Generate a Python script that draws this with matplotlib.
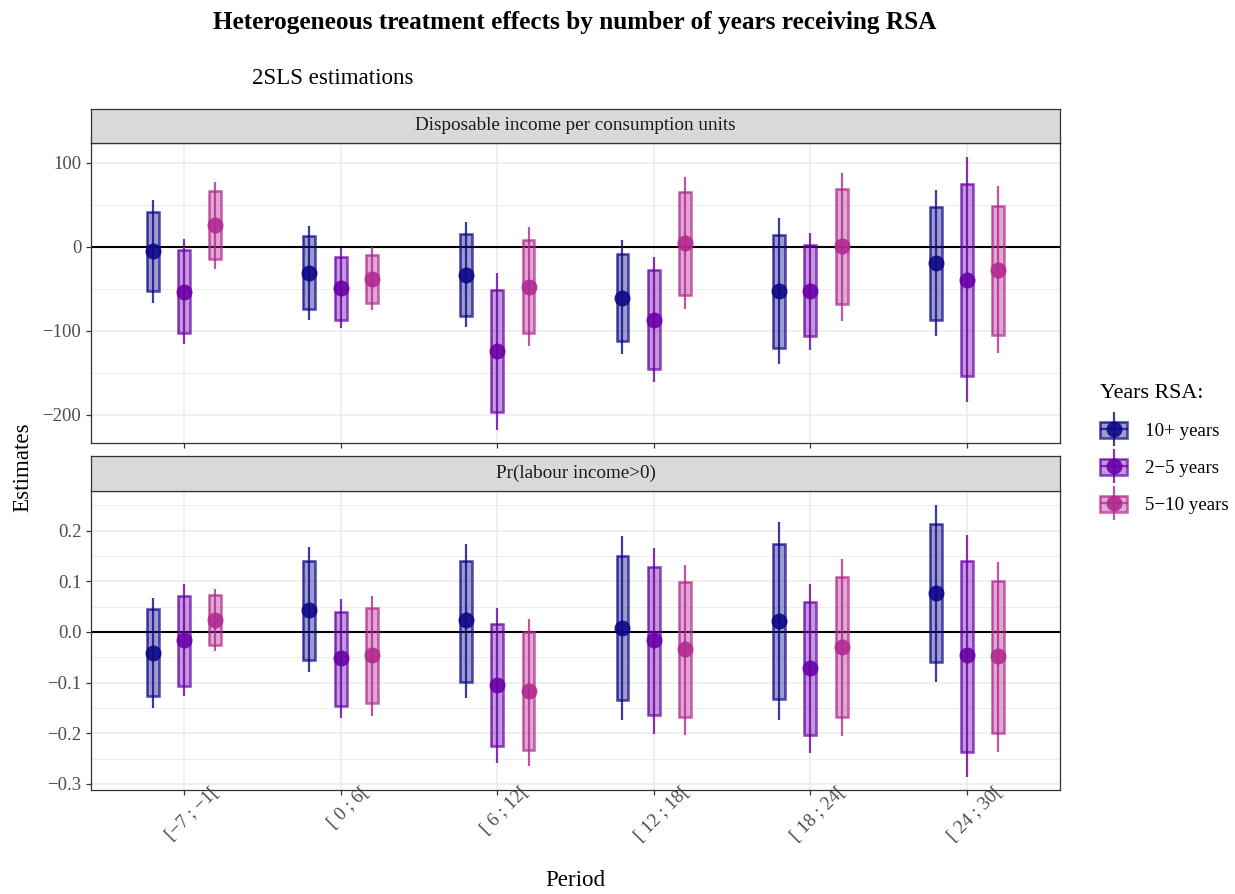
import matplotlib
matplotlib.use("Agg")
import matplotlib.pyplot as plt
import numpy as np
from matplotlib.patches import Rectangle, Patch
from matplotlib.lines import Line2D
from matplotlib.legend_handler import HandlerTuple
from matplotlib.transforms import ScaledTranslation

plt.rcParams['font.family'] = ['Liberation Serif', 'DejaVu Serif']

periods = ["[−7 ; −1[", "[ 0 ; 6[", "[ 6 ; 12[", "[ 12 ; 18[", "[ 18 ; 24[", "[ 24 ; 30["]
groups = ["10+ years", "2−5 years", "5−10 years"]
colors = ["#0D0887", "#6A00A8", "#B12A90"]
panels = ["Disposable income per consumption units", "Pr(labour income>0)"]

# Panel 1: disposable income
inc_est = {
    "10+ years": [-5, -31, -33, -61, -52, -19],
    "2−5 years": [-54, -49, -124, -87, -52, -39],
    "5−10 years": [26, -38, -48, 5, 1, -27],
}
inc_lo90 = {
    "10+ years": [-52, -74, -82, -112, -120, -87],
    "2−5 years": [-102, -87, -196, -145, -106, -154],
    "5−10 years": [-14, -67, -102, -57, -68, -105],
}
inc_hi90 = {
    "10+ years": [42, 13, 15, -8, 14, 48],
    "2−5 years": [-4, -12, -51, -27, 2, 75],
    "5−10 years": [67, -10, 8, 65, 69, 49],
}
inc_lo95 = {
    "10+ years": [-67, -87, -95, -127, -139, -106],
    "2−5 years": [-115, -96, -218, -161, -123, -185],
    "5−10 years": [-26, -75, -118, -74, -88, -126],
}
inc_hi95 = {
    "10+ years": [56, 25, 30, 8, 35, 68],
    "2−5 years": [10, -1, -31, -12, 17, 107],
    "5−10 years": [77, 0, 24, 83, 88, 73],
}

# Panel 2: Pr(labour income>0)
lab_est = {
    "10+ years": [-0.041, 0.043, 0.024, 0.008, 0.022, 0.077],
    "2−5 years": [-0.016, -0.051, -0.105, -0.016, -0.071, -0.045],
    "5−10 years": [0.024, -0.045, -0.116, -0.034, -0.030, -0.047],
}
lab_lo90 = {
    "10+ years": [-0.126, -0.055, -0.099, -0.134, -0.132, -0.059],
    "2−5 years": [-0.107, -0.146, -0.225, -0.164, -0.203, -0.237],
    "5−10 years": [-0.026, -0.140, -0.233, -0.168, -0.168, -0.199],
}
lab_hi90 = {
    "10+ years": [0.045, 0.140, 0.140, 0.150, 0.174, 0.213],
    "2−5 years": [0.071, 0.039, 0.016, 0.128, 0.059, 0.140],
    "5−10 years": [0.073, 0.047, 0.000, 0.099, 0.108, 0.100],
}
lab_lo95 = {
    "10+ years": [-0.150, -0.079, -0.130, -0.174, -0.174, -0.099],
    "2−5 years": [-0.126, -0.170, -0.258, -0.201, -0.239, -0.286],
    "5−10 years": [-0.037, -0.166, -0.264, -0.203, -0.205, -0.237],
}
lab_hi95 = {
    "10+ years": [0.067, 0.168, 0.174, 0.190, 0.217, 0.250],
    "2−5 years": [0.095, 0.065, 0.047, 0.166, 0.095, 0.191],
    "5−10 years": [0.085, 0.071, 0.026, 0.132, 0.144, 0.138],
}

panel_data = [
    (inc_est, inc_lo90, inc_hi90, inc_lo95, inc_hi95),
    (lab_est, lab_lo90, lab_hi90, lab_lo95, lab_hi95),
]

W, H = 1235, 894
fig = plt.figure(figsize=(W / 100, H / 100), dpi=100)

def fx(px):
    return px / W

def fy(py):
    return 1 - py / H

panel_px = [(143, 443, 109), (491, 790, 456)]
left_px, right_px = 91, 1060
ylims = [(-233.5, 123.8), (-0.312, 0.278)]
major_ticks = [[-200, -100, 0, 100], [-0.3, -0.2, -0.1, 0.0, 0.1, 0.2]]
minor_ticks = [[-150, -50, 50], [-0.25, -0.15, -0.05, 0.05, 0.15, 0.25]]
tick_fmt = [lambda v: f"{v:.0f}".replace("-", "−"), lambda v: f"{v:.1f}".replace("-", "−")]

offsets = [-0.2, 0.0, 0.2]
box_w = 0.076
xpos = np.arange(1, len(periods) + 1)
grid_c = "#EBEBEB"
text_c = "#4D4D4D"
TS = 13.5

for pi, (top, bot, strip_top) in enumerate(panel_px):
    ax = fig.add_axes([fx(left_px), fy(bot), fx(right_px - left_px), (bot - top) / H])
    est, lo90, hi90, lo95, hi95 = panel_data[pi]
    ax.set_xlim(0.406, 6.594)
    ax.set_ylim(*ylims[pi])
    ax.set_yticks(major_ticks[pi])
    ax.set_yticks(minor_ticks[pi], minor=True)
    ax.set_yticklabels([tick_fmt[pi](v) for v in major_ticks[pi]])
    ax.set_xticks(xpos)
    ax.grid(True, which="major", color=grid_c, linewidth=1.1, zorder=0)
    ax.grid(True, which="minor", axis="y", color=grid_c, linewidth=0.6, zorder=0)
    ax.set_axisbelow(True)
    for s in ax.spines.values():
        s.set_color("#333333")
        s.set_linewidth(0.9)
    ax.tick_params(axis="both", which="major", length=3.5, color="#333333", labelsize=TS,
                   labelcolor=text_c, width=0.9, pad=3.5)
    ax.tick_params(axis="y", which="minor", length=0)
    ax.axhline(0, color="black", linewidth=1.5, zorder=1)

    for gi, g in enumerate(groups):
        c = colors[gi]
        xs = xpos + offsets[gi]
        for k, x in enumerate(xs):
            ax.vlines(x, lo95[g][k], hi95[g][k], color=c, linewidth=1.6, alpha=0.8, zorder=2)
            ax.add_patch(Rectangle((x - box_w / 2, lo90[g][k]), box_w, hi90[g][k] - lo90[g][k],
                                   facecolor=c, alpha=0.4, edgecolor="none", zorder=3))
            ax.add_patch(Rectangle((x - box_w / 2, lo90[g][k]), box_w, hi90[g][k] - lo90[g][k],
                                   facecolor="none", edgecolor=c, alpha=0.75, linewidth=1.8, zorder=3))
        ax.plot(xs, est[g], "o", color=c, markersize=11.5, alpha=0.9, markeredgewidth=0, zorder=4)

    if pi == 0:
        ax.set_xticklabels([])
    else:
        labs = ax.set_xticklabels(periods, rotation=45, ha="center", va="top", fontsize=TS, color=text_c)
        off = ScaledTranslation(0.08, 0.16, fig.dpi_scale_trans)
        for t in labs:
            t.set_transform(t.get_transform() + off)

    # strip
    sax = fig.add_axes([fx(left_px), fy(top), fx(right_px - left_px), (top - strip_top) / H])
    sax.set_facecolor("#D9D9D9")
    sax.set_xticks([])
    sax.set_yticks([])
    for s in sax.spines.values():
        s.set_color("#333333")
        s.set_linewidth(0.9)
    sax.text(0.5, 0.5, panels[pi], ha="center", va="center", fontsize=13.8, color="#1A1A1A",
             transform=sax.transAxes)

fig.text(fx(575), fy(23), "Heterogeneous treatment effects by number of years receiving RSA",
         ha="center", va="center", fontsize=18.2, fontweight="bold")
fig.text(fx(252), fy(79), "2SLS estimations", ha="left", va="center", fontsize=16.6)
fig.text(fx(23), fy(467), "Estimates", ha="center", va="center", rotation=90, fontsize=16.6)
fig.text(fx(575), fy(881), "Period", ha="center", va="center", fontsize=16.6)

handles = []
for c in colors:
    h = (Patch(facecolor=c, alpha=0.4, edgecolor="none"),
         Patch(facecolor="none", edgecolor=c, linewidth=1.8, alpha=0.75),
         Line2D([], [], color=c, marker="|", markersize=25, linestyle="none", alpha=0.8, markeredgewidth=1.6),
         Line2D([], [], color=c, marker="_", markersize=20, linestyle="none", alpha=0.75, markeredgewidth=1.6),
         Line2D([], [], color=c, marker="o", markersize=11.5, linestyle="none", alpha=0.9, markeredgewidth=0))
    handles.append(h)
leg = fig.legend(handles, groups, handler_map={tuple: HandlerTuple(ndivide=1, pad=0)},
                 loc="upper left", bbox_to_anchor=(fx(1083), fy(367)), frameon=False,
                 title="Years RSA:", fontsize=13.6, title_fontsize=15.8, handlelength=1.45,
                 handleheight=0.95, labelspacing=0.98, handletextpad=0.95, alignment="left")

fig.savefig("out.png", dpi=100)
